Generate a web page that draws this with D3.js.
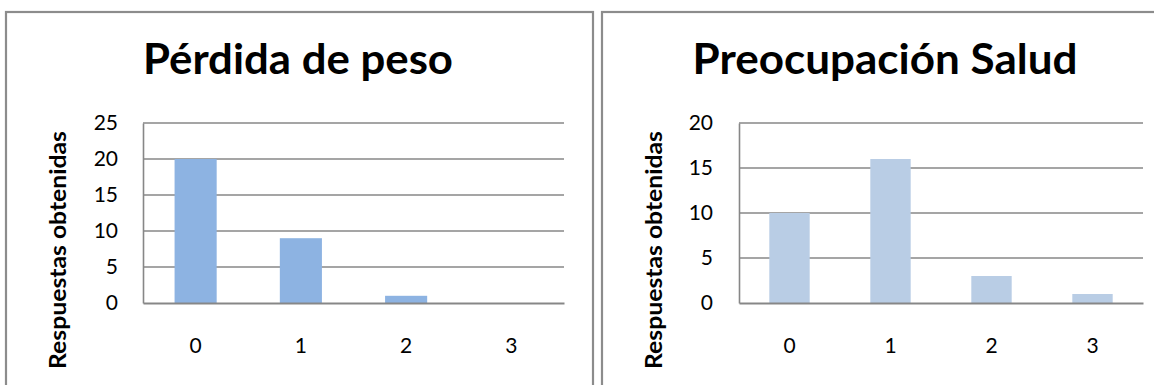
<!DOCTYPE html>
<html>
<head>
<meta charset="utf-8">
<script src="https://cdn.jsdelivr.net/npm/d3@7"></script>
<style>
  html, body { margin: 0; padding: 0; background: #fff; }
  svg { display: block; }
  text { font-family: Lato, "Open Sans", sans-serif; fill: #000; }
</style>
</head>
<body>
<script>
// Categories shared by both charts
const categories = ["0", "1", "2", "3"];

// Chart 1: weight loss
const perdidaTitle = "Pérdida de peso";
const perdidaValues = [20, 9, 1, 0];
const perdidaTicks = [0, 5, 10, 15, 20, 25];

// Chart 2: health concern
const saludTitle = "Preocupación Salud";
const saludValues = [10, 16, 3, 1];
const saludTicks = [0, 5, 10, 15, 20];

const yAxisTitle = "Respuestas obtenidas";

const W = 1154, H = 385;
const svg = d3.select("body").append("svg").attr("width", W).attr("height", H);

function drawChart(cfg) {
  const g = svg.append("g");

  // chart frame
  g.append("rect")
    .attr("x", cfg.frame[0]).attr("y", cfg.frame[1])
    .attr("width", cfg.frame[2]).attr("height", cfg.frame[3])
    .attr("fill", "none").attr("stroke", "#8c8c8c").attr("stroke-width", 2.2);

  const x = d3.scaleBand().domain(cfg.categories).range([cfg.left, cfg.right]).paddingInner(0).paddingOuter(0);
  const y = d3.scaleLinear().domain([0, d3.max(cfg.ticks)]).range([cfg.bottom, cfg.top]);

  // horizontal gridlines
  g.append("g").selectAll("line").data(cfg.ticks.filter(t => t > 0)).join("line")
    .attr("x1", cfg.left).attr("x2", cfg.right)
    .attr("y1", d => y(d)).attr("y2", d => y(d))
    .attr("stroke", "#878787").attr("stroke-width", 1.6);

  // bars (gap width 150%)
  const barW = x.bandwidth() / 2.5;
  g.append("g").selectAll("rect").data(cfg.values).join("rect")
    .attr("x", (d, i) => x(cfg.categories[i]) + (x.bandwidth() - barW) / 2)
    .attr("width", barW)
    .attr("y", d => y(d))
    .attr("height", d => y(0) - y(d))
    .attr("fill", cfg.color);

  // value axis (left)
  const yAxis = d3.axisLeft(y).tickValues(cfg.ticks).tickSize(0).tickPadding(cfg.left - cfg.tickRight);
  const ya = g.append("g").attr("transform", `translate(${cfg.left},0)`).call(yAxis);
  ya.select(".domain").attr("stroke", "#878787").attr("stroke-width", 1.6);
  ya.selectAll("text").attr("font-size", 21).attr("font-family", "Lato, sans-serif").attr("fill", "#000");

  // category axis (bottom)
  const xAxis = d3.axisBottom(x).tickSize(0).tickPadding(35);
  const xa = g.append("g").attr("transform", `translate(0,${cfg.bottom})`).call(xAxis);
  xa.select(".domain").attr("stroke", "#878787").attr("stroke-width", 1.8);
  xa.selectAll("text").attr("font-size", 21).attr("font-family", "Lato, sans-serif").attr("fill", "#000");

  // chart title
  g.append("text")
    .attr("x", cfg.titleX).attr("y", 74)
    .attr("text-anchor", "middle")
    .attr("font-size", 42).attr("font-weight", "bold")
    .attr("textLength", cfg.titleLen).attr("lengthAdjust", "spacingAndGlyphs")
    .text(cfg.title);

  // value axis title
  g.append("text")
    .attr("transform", `translate(${cfg.labelX},250) rotate(-90)`)
    .attr("text-anchor", "middle")
    .attr("font-size", 23).attr("font-weight", "bold")
    .attr("textLength", 238).attr("lengthAdjust", "spacingAndGlyphs")
    .text(yAxisTitle);
}

drawChart({
  title: perdidaTitle, categories, values: perdidaValues, ticks: perdidaTicks,
  color: "#8db3e2",
  frame: [6, 12, 587, 400],
  left: 143, right: 564, top: 123, bottom: 303,
  tickRight: 118, titleX: 298, titleLen: 310, labelX: 66
});

drawChart({
  title: saludTitle, categories, values: saludValues, ticks: saludTicks,
  color: "#b9cde5",
  frame: [602, 12, 600, 400],
  left: 739, right: 1143, top: 123, bottom: 303,
  tickRight: 713, titleX: 885, titleLen: 385, labelX: 662
});
</script>
</body>
</html>
